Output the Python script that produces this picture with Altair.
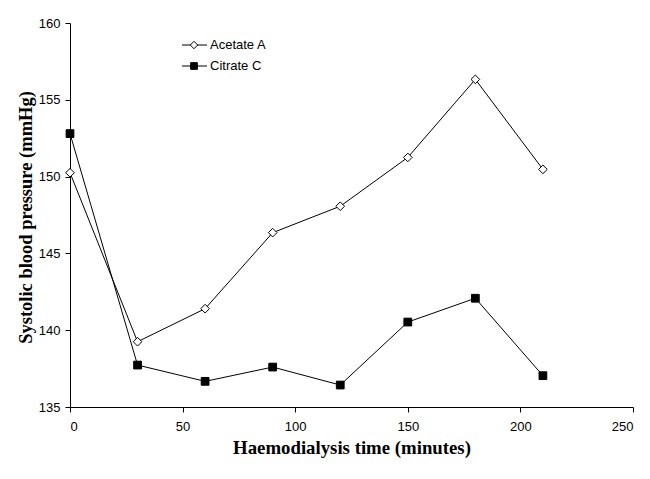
import altair as alt
import pandas as pd

times = [0, 30, 60, 90, 120, 150, 180, 210]
acetate = [150.25, 139.25, 141.4, 146.35, 148.07, 151.25, 156.33, 150.47]
citrate = [152.8, 137.73, 136.67, 137.6, 136.43, 140.53, 142.08, 137.04]
series_names = ["Acetate A", "Citrate C"]
x_ticks = [0, 50, 100, 150, 200, 250]
y_ticks = [135, 140, 145, 150, 155, 160]

df_a = pd.DataFrame({"time": times, "sbp": acetate, "series": series_names[0]})
df_c = pd.DataFrame({"time": times, "sbp": citrate, "series": series_names[1]})

LABEL_FONT = "Liberation Sans"
TITLE_FONT = "Liberation Serif"

x_enc = alt.X(
    "time:Q",
    scale=alt.Scale(domain=[0, 250], nice=False, zero=False),
    axis=alt.Axis(
        values=x_ticks,
        title="Haemodialysis time (minutes)",
        titleFont=TITLE_FONT,
        titleFontSize=18.8,
        titleFontWeight="bold",
        titleColor="black",
        titleY=46,
        titleBaseline="alphabetic",
        titleAlign="center",
        labelFont=LABEL_FONT,
        labelFontSize=13,
        labelColor="black",
        labelPadding=8,
        tickSize=5,
        tickColor="black",
        domainColor="black",
        grid=False,
    ),
)
y_enc = alt.Y(
    "sbp:Q",
    scale=alt.Scale(domain=[135, 160], nice=False, zero=False),
    axis=alt.Axis(
        values=y_ticks,
        title="Systolic blood pressure (mmHg)",
        titleFont=TITLE_FONT,
        titleFontSize=18.5,
        titleFontWeight="bold",
        titleColor="black",
        titleX=-45,
        titleY=194,
        titleAngle=270,
        titleAlign="center",
        titleBaseline="middle",
        labelFont=LABEL_FONT,
        labelFontSize=13,
        labelColor="black",
        labelPadding=5,
        tickSize=5,
        tickColor="black",
        domainColor="black",
        grid=False,
    ),
)

line_a = alt.Chart(df_a).mark_line(color="black", strokeWidth=1).encode(x=x_enc, y=y_enc)
line_c = alt.Chart(df_c).mark_line(color="black", strokeWidth=1).encode(x=x_enc, y=y_enc)
pts_a = alt.Chart(df_a).mark_point(
    shape="diamond", filled=True, fill="white", stroke="black", strokeWidth=1, size=75, opacity=1
).encode(x=x_enc, y=y_enc)
pts_c = alt.Chart(df_c).mark_point(
    shape="square", filled=True, fill="black", stroke="black", strokeWidth=1, size=60, opacity=1
).encode(x=x_enc, y=y_enc)

# manual legend (pixel positions relative to plot area)
leg_df = pd.DataFrame({"series": series_names})
legend_layers = []
for i, name in enumerate(series_names):
    row = alt.Chart(leg_df.iloc[[i]])
    ly = 22 + i * 21
    legend_layers.append(
        row.mark_rule(color="black", strokeWidth=1).encode(
            x=alt.value(112), x2=alt.value(137), y=alt.value(ly)
        )
    )
    if i == 0:
        legend_layers.append(
            row.mark_point(shape="diamond", filled=True, fill="white", stroke="black",
                           strokeWidth=1, size=55, opacity=1).encode(
                x=alt.value(124), y=alt.value(ly)
            )
        )
    else:
        legend_layers.append(
            row.mark_point(shape="square", filled=True, fill="black", stroke="black",
                           strokeWidth=1, size=45, opacity=1).encode(
                x=alt.value(124), y=alt.value(ly)
            )
        )
    legend_layers.append(
        row.mark_text(align="left", baseline="middle", font=LABEL_FONT, fontSize=13, color="black").encode(
            x=alt.value(140), y=alt.value(ly), text="series:N"
        )
    )

chart = alt.layer(line_a, line_c, pts_a, pts_c, *legend_layers).properties(
    width=563,
    height=384,
    autosize=alt.AutoSizeParams(type="none"),
    padding={"left": 62, "top": 15, "right": 9, "bottom": 64},
    background="white",
).configure_view(stroke=None)

chart.save("out.html", embed_options={"renderer": "svg", "actions": False})
